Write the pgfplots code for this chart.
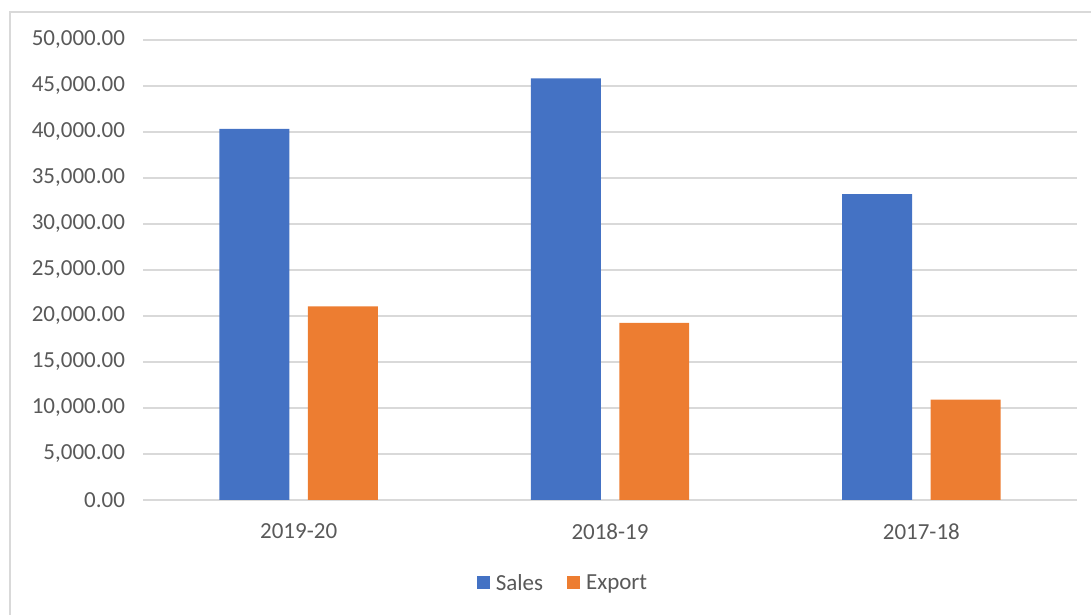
\documentclass[border=0pt]{standalone}
\usepackage{fontspec}
\setmainfont{Carlito}
\usepackage{pgfplots}
\pgfplotsset{compat=1.18}
\definecolor{sblue}{HTML}{4472C4}
\definecolor{sorange}{HTML}{ED7D31}
\definecolor{gridc}{HTML}{D9D9D9}
\definecolor{txt}{HTML}{595959}
\definecolor{framec}{HTML}{D9D9D9}
\begin{document}
\begin{tikzpicture}
\useasboundingbox (0pt,0pt) rectangle (1091pt,615pt);
\draw[framec, line width=1.5pt] (10pt,-5pt) -- (10pt,603pt) -- (1100pt,603pt);
\begin{axis}[
  at={(143pt,115pt)}, anchor=south west,
  scale only axis, width=934pt, height=460pt,
  xmin=-0.5, xmax=2.5, ymin=0, ymax=50000,
  xtick={0,1,2}, xticklabels={2019-20,2018-19,2017-18},
  ytick={0,5000,...,50000},
  ymajorgrids, grid style={gridc, line width=1.4pt},
  axis line style={draw=none}, tick style={draw=none},
  scaled y ticks=false,
  /pgf/number format/.cd, fixed, fixed zerofill, precision=2, 1000 sep={,}, assume math mode=true,
  /pgfplots/.cd,
  ticklabel style={font=\fontsize{23}{27}\selectfont, text=txt},
  yticklabel style={xshift=-14.5pt},
  xticklabel style={yshift=-15.5pt},
  ybar, bar width=0.2246,
  legend columns=2,
  legend style={draw=none, at={(0.4486,-0.180)}, anchor=center,
    font=\fontsize{23}{27}\selectfont, text=txt,
    nodes={inner sep=0pt},
    /tikz/every odd column/.append style={column sep=6pt},
    /tikz/every even column/.append style={column sep=24pt}},
  legend image code/.code={\fill[#1] (0pt,-6.5pt) rectangle (13pt,6.5pt);},
]
\addplot[fill=sblue, draw=none, bar shift=-0.142] coordinates {(0,40330) (1,45830) (2,33260)};
\addplot[fill=sorange, draw=none, bar shift=0.142] coordinates {(0,21040) (1,19240) (2,10900)};
\legend{Sales, Export}
\end{axis}
\end{tikzpicture}
\end{document}
